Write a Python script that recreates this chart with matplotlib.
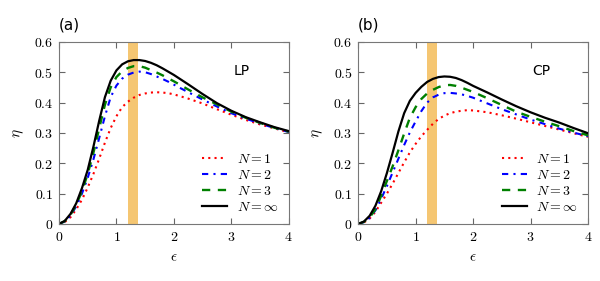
import numpy as np
import matplotlib
matplotlib.use("Agg")
import matplotlib.pyplot as plt
from matplotlib.ticker import FixedLocator, FixedFormatter

plt.rcParams["mathtext.fontset"] = "cm"

eps = [0, 0.1, 0.2, 0.3, 0.4, 0.5, 0.6, 0.7, 0.8, 0.9, 1.0, 1.1, 1.2, 1.3,
       1.4, 1.5, 1.6, 1.7, 1.8, 1.9, 2.0, 2.25, 2.5, 2.75, 3.0, 3.25, 3.5,
       3.75, 4.0]

# (a) LP
lp_n1 = [0, 0.006, 0.022, 0.048, 0.08, 0.12, 0.165, 0.215, 0.268, 0.316,
         0.355, 0.385, 0.403, 0.416, 0.425, 0.43, 0.433, 0.434, 0.433, 0.431,
         0.427, 0.413, 0.397, 0.378, 0.36, 0.343, 0.328, 0.315, 0.302]
lp_n2 = [0, 0.008, 0.027, 0.058, 0.1, 0.152, 0.213, 0.283, 0.355, 0.418,
         0.456, 0.479, 0.492, 0.499, 0.502, 0.5, 0.494, 0.486, 0.478, 0.469,
         0.459, 0.434, 0.41, 0.387, 0.365, 0.347, 0.331, 0.316, 0.303]
lp_n3 = [0, 0.009, 0.03, 0.063, 0.108, 0.165, 0.235, 0.315, 0.393, 0.45,
         0.484, 0.503, 0.514, 0.52, 0.52, 0.515, 0.507, 0.499, 0.49, 0.48,
         0.47, 0.443, 0.417, 0.394, 0.37, 0.35, 0.333, 0.317, 0.304]
lp_inf = [0, 0.01, 0.033, 0.068, 0.118, 0.178, 0.255, 0.34, 0.418, 0.472,
          0.506, 0.526, 0.536, 0.54, 0.54, 0.537, 0.531, 0.523, 0.513, 0.502,
          0.491, 0.46, 0.428, 0.398, 0.373, 0.352, 0.335, 0.319, 0.306]

# (b) CP
cp_n1 = [0, 0.005, 0.018, 0.04, 0.07, 0.1, 0.133, 0.168, 0.203, 0.236,
         0.264, 0.289, 0.31, 0.33, 0.346, 0.357, 0.365, 0.37, 0.373, 0.375,
         0.374, 0.368, 0.358, 0.347, 0.335, 0.323, 0.311, 0.299, 0.287]
cp_n2 = [0, 0.006, 0.02, 0.045, 0.083, 0.125, 0.17, 0.215, 0.26, 0.302,
         0.338, 0.372, 0.4, 0.417, 0.426, 0.431, 0.432, 0.43, 0.427, 0.422,
         0.416, 0.397, 0.378, 0.361, 0.344, 0.329, 0.314, 0.301, 0.289]
cp_n3 = [0, 0.007, 0.022, 0.048, 0.093, 0.142, 0.19, 0.243, 0.298, 0.35,
         0.385, 0.412, 0.43, 0.442, 0.451, 0.457, 0.458, 0.455, 0.449, 0.442,
         0.435, 0.414, 0.392, 0.37, 0.353, 0.337, 0.322, 0.306, 0.292]
cp_inf = [0, 0.008, 0.027, 0.06, 0.108, 0.168, 0.235, 0.305, 0.365, 0.406,
          0.432, 0.452, 0.468, 0.478, 0.484, 0.486, 0.485, 0.481, 0.474,
          0.465, 0.455, 0.433, 0.41, 0.388, 0.368, 0.35, 0.334, 0.316, 0.299]

band = (1.2, 1.38)
xticks = [0, 1, 2, 3, 4]
xticklabels = ["$0$", "$1$", "$2$", "$3$", "$4$"]
yticks = [0, 0.1, 0.2, 0.3, 0.4, 0.5, 0.6]
yticklabels = ["$0$", "$0.1$", "$0.2$", "$0.3$", "$0.4$", "$0.5$", "$0.6$"]
labels = ["$N=1$", "$N=2$", "$N=3$", r"$N=\infty$"]

fig = plt.figure(figsize=(6, 2.81), dpi=100)
ax1 = fig.add_axes([0.0983, 0.203, 0.383, 0.648])
ax2 = fig.add_axes([0.597, 0.203, 0.383, 0.648])

panels = [(ax1, [lp_n1, lp_n2, lp_n3, lp_inf], "(a)", "LP"),
          (ax2, [cp_n1, cp_n2, cp_n3, cp_inf], "(b)", "CP")]

for ax, curves, tag, pol in panels:
    ax.axvspan(band[0], band[1], color="#f5c672", lw=0, zorder=0)
    ax.plot(eps, curves[0], color="red", ls=(0, (1, 2)), lw=1.5, label=labels[0])
    ax.plot(eps, curves[1], color="blue", ls=(0, (3, 2.5, 1, 2.5)), lw=1.5, label=labels[1])
    ax.plot(eps, curves[2], color="green", ls=(0, (3.5, 3.2)), lw=1.7, label=labels[2])
    ax.plot(eps, curves[3], color="black", ls="-", lw=1.6, label=labels[3])
    ax.set_xlim(0, 4)
    ax.set_ylim(0, 0.6)
    ax.xaxis.set_major_locator(FixedLocator(xticks))
    ax.xaxis.set_major_formatter(FixedFormatter(xticklabels))
    ax.yaxis.set_major_locator(FixedLocator(yticks))
    ax.yaxis.set_major_formatter(FixedFormatter(yticklabels))
    ax.tick_params(direction="in", top=True, right=True, length=4,
                   color="#666666", labelsize=10, pad=4)
    for s in ax.spines.values():
        s.set_color("#777777")
        s.set_linewidth(0.8)
    ax.set_xlabel(r"$\epsilon$", fontsize=11)
    ax.set_ylabel(r"$\eta$", fontsize=11, labelpad=6)
    ax.text(0.0, 1.09, tag, transform=ax.transAxes, fontsize=11, va="center", ha="left")
    ax.text(3.18, 0.505, pol, fontsize=10, va="center", ha="center")
    ax.legend(loc="lower right", frameon=False, fontsize=10, handlelength=1.8,
              labelspacing=0.15, borderaxespad=0.3, handletextpad=0.7)

fig.savefig("out.png", dpi=100)
